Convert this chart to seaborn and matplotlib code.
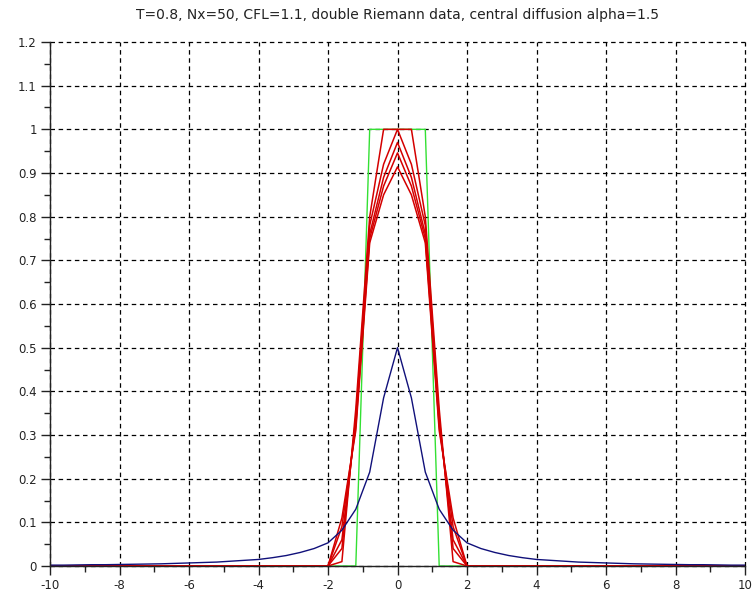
import numpy as np
import pandas as pd
import matplotlib
matplotlib.use("Agg")
import matplotlib.pyplot as plt
import seaborn as sns
from matplotlib.ticker import MultipleLocator

# ---- data ----
title = "T=0.8, Nx=50, CFL=1.1, double Riemann data, central diffusion alpha=1.5"

x_green = [-10, -1.2, -0.8, 0.8, 1.2, 10]
y_green = [0, 0, 1, 1, 0, 0]

x_red = [-10, -2.0, -1.6, -1.2, -0.8, -0.4, 0.0, 0.4, 0.8, 1.2, 1.6, 2.0, 10]
red_1 = [0, 0, 0.01, 0.36, 0.80, 1.00, 1.000, 1.00, 0.80, 0.36, 0.01, 0, 0]
red_2 = [0, 0, 0.04, 0.34, 0.78, 0.92, 1.000, 0.92, 0.78, 0.34, 0.04, 0, 0]
red_3 = [0, 0, 0.06, 0.33, 0.76, 0.89, 0.970, 0.89, 0.76, 0.33, 0.06, 0, 0]
red_4 = [0, 0, 0.09, 0.32, 0.75, 0.87, 0.946, 0.87, 0.75, 0.32, 0.09, 0, 0]
red_5 = [0, 0, 0.11, 0.31, 0.74, 0.85, 0.914, 0.85, 0.74, 0.31, 0.11, 0, 0]
red_curves = [red_1, red_2, red_3, red_4, red_5]

x_blue = [-10, -9.6, -9.2, -8.8, -8.4, -8.0, -7.6, -7.2, -6.8, -6.4, -6.0,
          -5.6, -5.2, -4.8, -4.4, -4.0, -3.6, -3.2, -2.8, -2.4, -2.0,
          -1.6, -1.2, -0.8, -0.4, 0.0, 0.4, 0.8, 1.2, 1.6, 2.0,
          2.4, 2.8, 3.2, 3.6, 4.0, 4.4, 4.8, 5.2, 5.6, 6.0,
          6.4, 6.8, 7.2, 7.6, 8.0, 8.4, 8.8, 9.2, 9.6, 10]
y_blue = [0.002, 0.002, 0.0025, 0.003, 0.003, 0.0035, 0.004, 0.0045, 0.005, 0.006, 0.007,
          0.008, 0.009, 0.011, 0.013, 0.015, 0.019, 0.024, 0.031, 0.040, 0.053,
          0.082, 0.130, 0.215, 0.385, 0.500, 0.385, 0.215, 0.130, 0.082, 0.053,
          0.040, 0.031, 0.024, 0.019, 0.015, 0.013, 0.011, 0.009, 0.008, 0.007,
          0.006, 0.005, 0.0045, 0.004, 0.0035, 0.003, 0.003, 0.0025, 0.002, 0.002]

x_ticks = [-10, -8, -6, -4, -2, 0, 2, 4, 6, 8, 10]
y_ticks = [0, 0.1, 0.2, 0.3, 0.4, 0.5, 0.6, 0.7, 0.8, 0.9, 1, 1.1, 1.2]
y_tick_labels = ["0", "0.1", "0.2", "0.3", "0.4", "0.5", "0.6", "0.7", "0.8", "0.9", "1", "1.1", "1.2"]

# ---- plot ----
sns.set_style("white")
plt.rcParams["font.family"] = ["DejaVu Sans"]

fig = plt.figure(figsize=(7.56, 5.97), dpi=100)
ax = fig.add_axes([50 / 756, 1 - 566 / 597, (745 - 50) / 756, (566 - 42) / 597])

sns.lineplot(x=x_green, y=y_green, ax=ax, color="#33e033", lw=1.0, sort=False, estimator=None)
for yc in red_curves:
    sns.lineplot(x=x_red, y=yc, ax=ax, color="#d40000", lw=1.1, sort=False, estimator=None)
sns.lineplot(x=x_blue, y=y_blue, ax=ax, color="#10107a", lw=1.0, sort=False, estimator=None)

ax.set_xlim(-10, 10)
ax.set_ylim(0, 1.2)
ax.set_xticks(x_ticks)
ax.set_xticklabels([str(t) for t in x_ticks])
ax.set_yticks(y_ticks)
ax.set_yticklabels(y_tick_labels)
ax.xaxis.set_minor_locator(MultipleLocator(1))
ax.yaxis.set_minor_locator(MultipleLocator(0.05))
ax.set_xlabel("")
ax.set_ylabel("")

ax.grid(True, which="major", color="black", linestyle=(0, (3.6, 2.9)), linewidth=0.9)
ax.set_axisbelow(True)
for gl in ax.get_xgridlines() + ax.get_ygridlines():
    gl.set_clip_on(False)

for s in ["top", "right"]:
    ax.spines[s].set_visible(False)
for s in ["left", "bottom"]:
    ax.spines[s].set_color("#222222")
    ax.spines[s].set_linewidth(1.0)

ax.tick_params(axis="both", which="major", direction="out", length=6.5, width=1.0,
               color="#222222", labelsize=8.5, labelcolor="#222222", pad=3,
               left=True, bottom=True)
ax.tick_params(axis="both", which="minor", direction="out", length=4, width=1.0,
               color="#222222", left=True, bottom=True)

fig.text(397 / 756, 1 - 15 / 597, title, ha="center", va="center", fontsize=10, color="#222222")

fig.savefig("out.png", dpi=100, facecolor="white")
